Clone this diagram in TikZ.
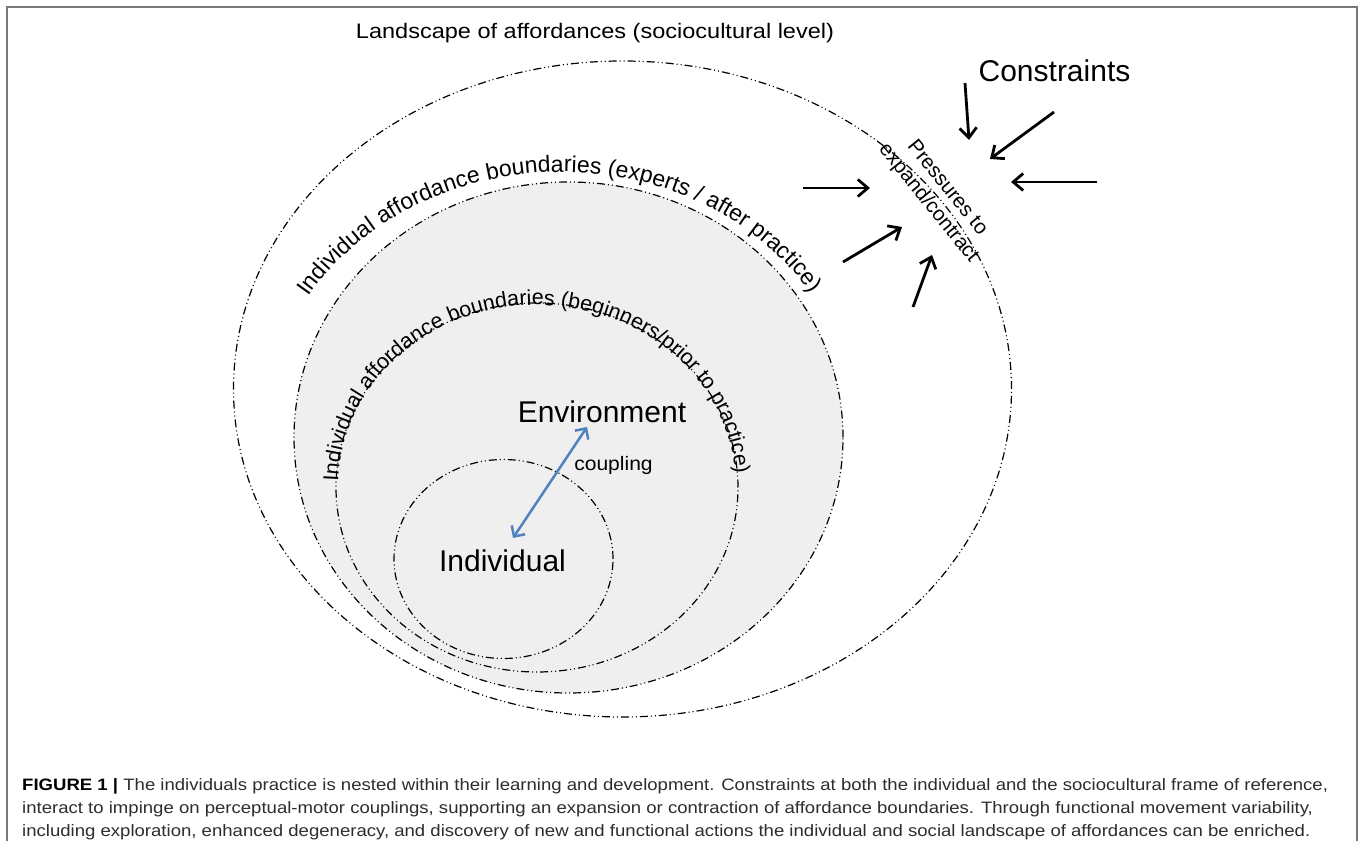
\documentclass[tikz,border=0pt]{standalone}
\usepackage{fontspec}
\setmainfont{Liberation Sans}
\usetikzlibrary{arrows.meta,decorations.text}
\definecolor{fillgray}{RGB}{239,239,239}
\definecolor{framegray}{RGB}{120,120,120}
\definecolor{cblue}{RGB}{79,129,189}
\definecolor{captext}{RGB}{45,45,45}
\begin{document}
\begin{tikzpicture}[x=1pt,y=1pt,
  bound/.style={line width=1.2pt, dash pattern=on 8pt off 3pt on 1pt off 3pt on 1pt off 3pt},
  area/.style={bound, fill=fillgray},
  force/.style={line width=2.8pt, -{Straight Barb[length=10pt,width=17pt]}},
  lbl/.style={inner sep=0pt, anchor=base},
  capline/.style={inner sep=0pt, anchor=base west, text=captext, xscale=1.125, font=\fontsize{16.5}{19}\selectfont}
]
\useasboundingbox (0,0) rectangle (1360,841);
\draw[framegray, line width=1.5pt] (7,0) -- (7,834) -- (1357,834) -- (1357,0);

% boundaries
\draw[bound] (622.5,452) ellipse[x radius=389, y radius=328];
\draw[area] (568.5,403.5) ellipse[x radius=274.5, y radius=255.5];
\draw[area] (537,353.5) ellipse[x radius=201, y radius=184.5];
\draw[area] (503.5,282) ellipse[x radius=109.5, y radius=99.5];

% curved labels
\path[decorate, decoration={text along path, text align=left,
  text={|\fontsize{23}{27}\selectfont|Individual affordance boundaries (experts / after practice)}}]
  (561,403.5) ++(148:298 and 265.5) arc[start angle=148, end angle=0, x radius=298, y radius=265.5];
\path[decorate, decoration={text along path, text align=left,
  text={|\fontsize{21.5}{26}\selectfont|Individual affordance boundaries (beginners/prior to practice)}}]
  (537,353.5) ++(178:199 and 182.5) arc[start angle=178, end angle=-15, x radius=199, y radius=182.5];

% labels
\node[lbl, xscale=1.12, font=\fontsize{21}{26}\selectfont] (land) at (595,802) {Landscape of affordances (sociocultural level)};
\node[lbl, font=\fontsize{30}{36}\selectfont] (cons) at (1054.5,759) {Constraints};
\node[lbl, font=\fontsize{30}{36}\selectfont] (env) at (602,418) {Environment};
\node[lbl, font=\fontsize{30}{36}\selectfont] (ind) at (502.5,269) {Individual};
\node[lbl, xscale=1.08, font=\fontsize{19.5}{23}\selectfont] (coup) at (613.5,370) {coupling};
\node[inner sep=0pt, align=center, rotate=-51, font=\fontsize{20.5}{24}\selectfont] (press) at (937.5,645) {Pressures to\\expand/contract};

% coupling arrow
\draw[line width=2.5pt, cblue, {Straight Barb[length=8pt,width=16pt]}-{Straight Barb[length=8pt,width=16pt]}]
  ([xshift=10.5pt,yshift=34pt]ind.base) -- ([xshift=-15pt,yshift=-4pt]env.base);

% constraint arrows
\coordinate (a0) at (965,758); \coordinate (a1) at (969,701);
\coordinate (b0) at (1054,729); \coordinate (b1) at (990,682);
\coordinate (c0) at (1097,659); \coordinate (c1) at (1011,659);
\coordinate (d0) at (803,653); \coordinate (d1) at (870,653);
\coordinate (e0) at (843,579); \coordinate (e1) at (902,614);
\coordinate (f0) at (913,534); \coordinate (f1) at (932,586);
\draw[force] (a0) -- (a1);
\draw[force] (b0) -- (b1);
\draw[force] (c0) -- (c1);
\draw[force] (d0) -- (d1);
\draw[force] (e0) -- (e1);
\draw[force] (f0) -- (f1);

% caption
\node[capline] (cap1) at (22,51) {{\bfseries\color{black}FIGURE 1 |} The individuals practice is nested within their learning and development. Constraints at both the individual and the sociocultural frame of reference,};
\node[capline] (cap2) at (22,28) {interact to impinge on perceptual-motor couplings, supporting an expansion or contraction of affordance boundaries. Through functional movement variability,};
\node[capline] (cap3) at (22,5) {including exploration, enhanced degeneracy, and discovery of new and functional actions the individual and social landscape of affordances can be enriched.};
\end{tikzpicture}
\end{document}
